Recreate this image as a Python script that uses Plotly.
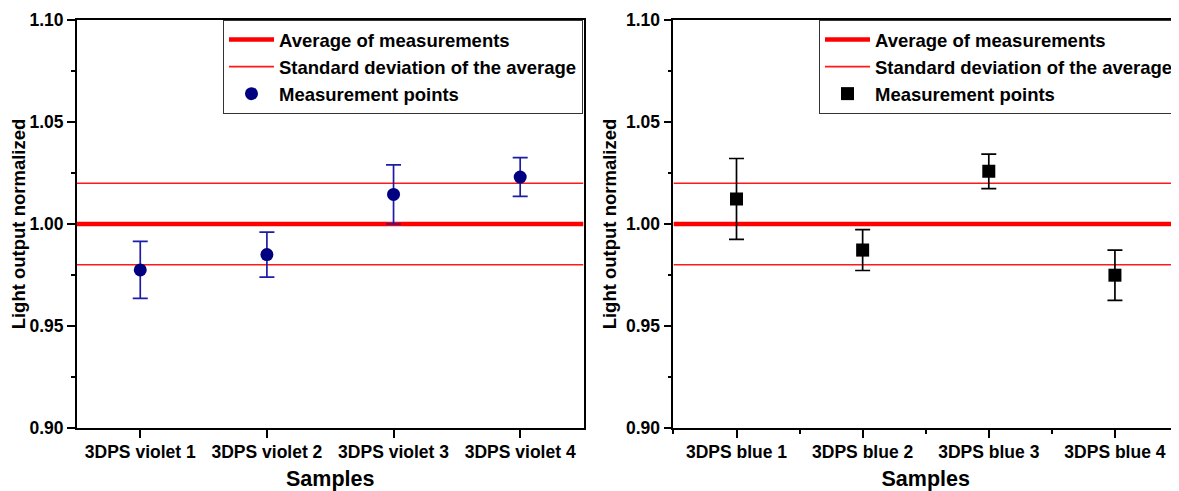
import plotly.graph_objects as go

# ---- data ----
violet_samples = ["3DPS violet 1", "3DPS violet 2", "3DPS violet 3", "3DPS violet 4"]
violet_values = [0.9775, 0.9850, 1.0145, 1.0230]
violet_errors = [0.0140, 0.0110, 0.0145, 0.0095]

blue_samples = ["3DPS blue 1", "3DPS blue 2", "3DPS blue 3", "3DPS blue 4"]
blue_values = [1.0123, 0.9872, 1.0258, 0.9749]
blue_errors = [0.0198, 0.0100, 0.0085, 0.0123]

average = 1.00
std_dev = 0.02

y_ticks = [0.90, 0.95, 1.00, 1.05, 1.10]
y_tick_labels = ["0.90", "0.95", "1.00", "1.05", "1.10"]

# page body has an 8px margin: the figure starts at (8, 8) in the window
OFF = 8
W, H = 1179 - OFF, 491 - OFF
FONT = "Liberation Sans, Arial, sans-serif"

fig = go.Figure()

def add_panel(xref, yref, legend, samples, values, errors, mcolor, ecolor, symbol, size):
    xs = list(range(1, len(samples) + 1))
    x0, x1 = 0.5, len(samples) + 0.5
    fig.add_trace(go.Scatter(
        x=[x0, x1], y=[average, average], mode="lines",
        line=dict(color="#ff0000", width=4.5),
        name="Average of measurements", xaxis=xref, yaxis=yref, legend=legend))
    fig.add_trace(go.Scatter(
        x=[x0, x1, None, x0, x1],
        y=[average + std_dev, average + std_dev, None, average - std_dev, average - std_dev],
        mode="lines", line=dict(color="#ff1a1a", width=1.6),
        name="Standard deviation of the average", xaxis=xref, yaxis=yref, legend=legend))
    fig.add_trace(go.Scatter(
        x=xs, y=values, mode="markers",
        marker=dict(color=mcolor, symbol=symbol, size=size, line=dict(width=0)),
        error_y=dict(type="data", array=errors, visible=True, color=ecolor,
                     thickness=1.7, width=7.5),
        name="Measurement points", xaxis=xref, yaxis=yref, legend=legend))

add_panel("x", "y", "legend", violet_samples, violet_values, violet_errors,
          "#000080", "#1c1ca6", "circle", 13)
add_panel("x2", "y2", "legend2", blue_samples, blue_values, blue_errors,
          "#000000", "#000000", "square", 13)

def fx(px):
    return (px - OFF) / W

def fy(py):
    return 1 - (py - OFF) / H

ydom = [fy(428), fy(20)]
xdom1 = [fx(77), fx(584)]
xdom2 = [fx(674), 1.0]

tickfont = dict(family=FONT, size=17.5, color="black", weight="bold")
xtitlefont = dict(family=FONT, size=21.5, color="black", weight="bold")
ytitlefont = dict(family=FONT, size=18.5, color="black", weight="bold")

def xaxis(dom, samples, minor):
    d = dict(domain=dom, range=[0.5, len(samples) + 0.5],
             tickmode="array", tickvals=list(range(1, len(samples) + 1)), ticktext=samples,
             ticks="outside", ticklen=8, tickwidth=1.8, tickcolor="black",
             showline=True, linecolor="black", linewidth=1.8, mirror=True,
             showgrid=False, zeroline=False, tickfont=tickfont, ticklabelstandoff=-1,
             title=dict(text="Samples", font=xtitlefont, standoff=14),
             automargin=False, fixedrange=True)
    if minor:
        d["minor"] = dict(tickvals=[0.5 + i for i in range(len(samples) + 1)], ticks="outside",
                          ticklen=4, tickwidth=1.8, tickcolor="black", showgrid=False)
    return d

def yaxis(anchor):
    return dict(domain=ydom, range=[0.90, 1.10], anchor=anchor,
                tickmode="array", tickvals=y_ticks, ticktext=y_tick_labels,
                ticks="outside", ticklen=8, tickwidth=1.8, tickcolor="black",
                minor=dict(dtick=0.025, tick0=0.9, ticks="outside", ticklen=4,
                           tickwidth=1.8, tickcolor="black", showgrid=False),
                showline=True, linecolor="black", linewidth=1.8, mirror=True,
                showgrid=False, zeroline=False, tickfont=tickfont,
                title=dict(text="Light output normalized", font=ytitlefont, standoff=4),
                automargin=False, fixedrange=True)

legend_common = dict(
    font=dict(family=FONT, size=18.5, color="black", weight="bold"),
    bgcolor="white", bordercolor="#333333", borderwidth=1,
    xanchor="left", yanchor="top", itemwidth=45, tracegroupgap=0,
    itemclick=False, itemdoubleclick=False)

fig.update_layout(
    width=W, height=H,
    margin=dict(l=0, r=0, t=0, b=0),
    paper_bgcolor="white", plot_bgcolor="white",
    font=dict(family=FONT, color="black"),
    xaxis=xaxis(xdom1, violet_samples, False),
    yaxis=yaxis("x"),
    xaxis2=xaxis(xdom2, blue_samples, True),
    yaxis2=yaxis("x2"),
    legend=dict(x=fx(223), y=ydom[1], **legend_common),
    legend2=dict(x=fx(820), y=ydom[1], **legend_common),
    showlegend=True,
)

fig.write_html("out.html")
